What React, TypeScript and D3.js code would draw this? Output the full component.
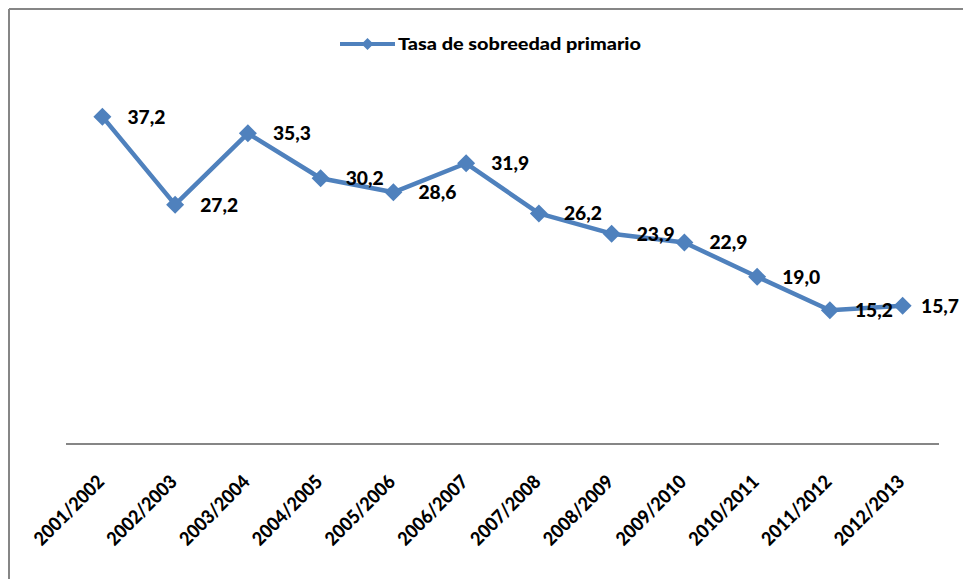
import React from "react";
import * as d3 from "d3";

const categories = ["2001/2002","2002/2003","2003/2004","2004/2005","2005/2006","2006/2007","2007/2008","2008/2009","2009/2010","2010/2011","2011/2012","2012/2013"];
const values = [37.2, 27.2, 35.3, 30.2, 28.6, 31.9, 26.2, 23.9, 22.9, 19.0, 15.2, 15.7];
const seriesName = "Tasa de sobreedad primario";

const W = 963, H = 579;
const COLOR = "#4F81BD";
const FONT = "Lato, 'Open Sans', sans-serif";

export default function App() {
  const x = d3.scaleBand<string>().domain(categories).range([66, 939]);
  const y = d3.scaleLinear().domain([0, 45]).range([444, 48]);
  const cx = (c: string) => (x(c) as number) + x.bandwidth() / 2;
  const line = d3.line<number>().x((_, i) => cx(categories[i])).y(d => y(d));
  const fmt = (v: number) => v.toFixed(1).replace(".", ",");
  const diamond = (px: number, py: number, r: number) =>
    `M${px},${py - r}L${px + r},${py}L${px},${py + r}L${px - r},${py}Z`;
  const labelW = 38;

  return (
    <svg width={W} height={H} style={{ position: "absolute", left: 0, top: 0, display: "block" }}>
      <rect x={0} y={0} width={W} height={H} fill="#fff" />
      <line x1={9} y1={9} x2={W} y2={9} stroke="#868686" strokeWidth={2} />
      <line x1={9} y1={9} x2={9} y2={H} stroke="#868686" strokeWidth={2} />
      {/* legend */}
      <g>
        <line x1={340} y1={44} x2={395} y2={44} stroke={COLOR} strokeWidth={4} />
        <path d={diamond(367.5, 44, 6)} fill={COLOR} />
        <text x={398} y={50} fontFamily={FONT} fontWeight={900} fontSize={17} fill="#000"
          textLength={243} lengthAdjust="spacingAndGlyphs">{seriesName}</text>
      </g>
      {/* axis */}
      <line x1={66} y1={444} x2={939} y2={444} stroke="#868686" strokeWidth={2} />
      {categories.map(c => (
        <text key={c} transform={`translate(${cx(c) + 3},${483}) rotate(-45)`} textAnchor="end"
          fontFamily={FONT} fontWeight={900} fontSize={19} fill="#000"
          textLength={90} lengthAdjust="spacingAndGlyphs">{c}</text>
      ))}
      <path d={line(values) || ""} fill="none" stroke={COLOR} strokeWidth={4.5} strokeLinejoin="round" />
      {values.map((v, i) => (
        <path key={i} d={diamond(cx(categories[i]), y(v), 9)} fill={COLOR} />
      ))}
      {values.map((v, i) => (
        <text key={"l" + i} x={Math.min(cx(categories[i]) + 25, W - labelW - 4)} y={y(v) + 7}
          fontFamily={FONT} fontWeight={900} fontSize={19} fill="#000"
          textLength={labelW} lengthAdjust="spacingAndGlyphs">{fmt(v)}</text>
      ))}
    </svg>
  );
}
